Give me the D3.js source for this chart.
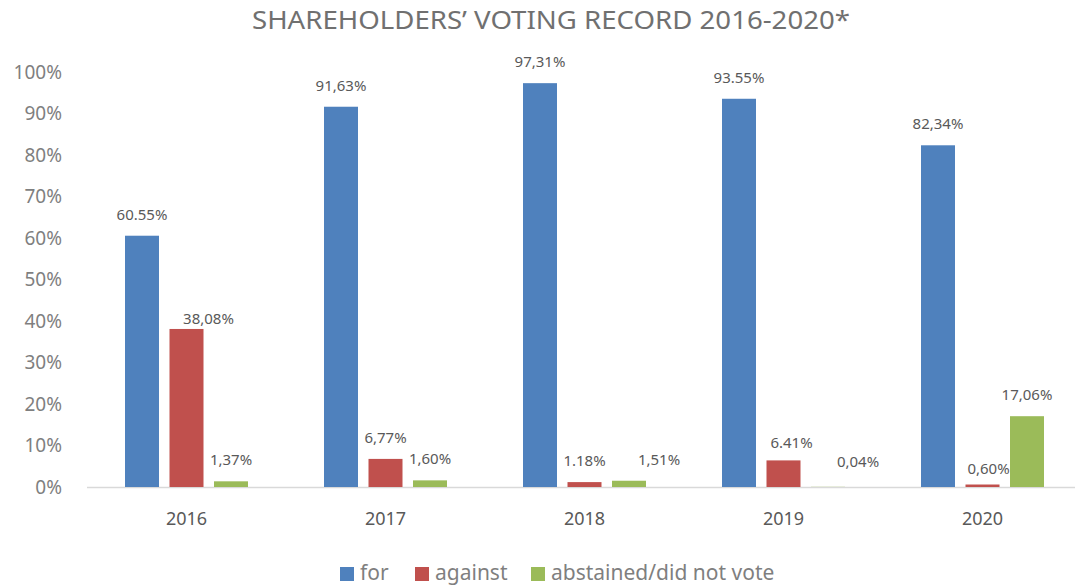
<!DOCTYPE html>
<meta charset="utf-8">
<style>
body { margin: 0; background: #fff; }
svg { font-family: "Noto Sans", sans-serif; }
.axis path, .axis line { display: none; }
</style>
<body>
<script src="https://d3js.org/d3.v7.min.js"></script>
<script>

// data
var years = ["2016", "2017", "2018", "2019", "2020"];
var series = ["for", "against", "abstained/did not vote"];
var forVals = [60.55, 91.63, 97.31, 93.55, 82.34];
var againstVals = [38.08, 6.77, 1.18, 6.41, 0.60];
var abstainedVals = [1.37, 1.60, 1.51, 0.04, 17.06];
var forLabels = ["60.55%", "91,63%", "97,31%", "93.55%", "82,34%"];
var againstLabels = ["38,08%", "6,77%", "1.18%", "6.41%", "0,60%"];
var abstainedLabels = ["1,37%", "1,60%", "1,51%", "0,04%", "17,06%"];
var yTicks = [0, 10, 20, 30, 40, 50, 60, 70, 80, 90, 100];

var colors = ["#4f81bd", "#c0504d", "#9bbb59"];
// labels that were dragged by hand in the original
var labelNudge = { "1-0": [22, 11], "2-2": [30, 0], "2-3": [30, -4], "1-3": [8, 4], "1-4": [6, 5] };

var W = 1075, H = 588;
var margin = {top: 72, left: 87, bottom: 101};
var step = 199;

var x0 = d3.scaleBand().domain(years)
    .range([margin.left, margin.left + step * years.length]);
var x1 = d3.scaleBand().domain(d3.range(series.length))
    .range([-61.5, 61.5]).paddingInner(0.236);
var y = d3.scaleLinear().domain([0, 100]).range([487, 72]);

var svg = d3.select("body").append("svg")
    .attr("width", W).attr("height", H);

svg.append("text")
    .attr("x", 551).attr("y", 29)
    .attr("text-anchor", "middle")
    .attr("font-size", 26)
    .attr("fill", "#707070")
    .attr("textLength", 598).attr("lengthAdjust", "spacingAndGlyphs")
    .text("SHAREHOLDERS\u2019 VOTING RECORD 2016-2020*");

// y axis
svg.append("g").attr("class", "axis")
    .attr("transform", "translate(" + (margin.left - 22) + ",0)")
    .call(d3.axisLeft(y).tickValues(yTicks).tickSize(0).tickFormat(function(d) { return d + "%"; }))
    .selectAll("text")
    .attr("font-size", 19).attr("fill", "#7f7f7f")
    .attr("font-family", "Noto Sans, sans-serif");

// baseline
svg.append("line")
    .attr("x1", margin.left).attr("x2", W)
    .attr("y1", y(0) + 0.5).attr("y2", y(0) + 0.5)
    .attr("stroke", "#d9d9d9").attr("stroke-width", 1.5);

// x axis
svg.append("g").attr("class", "axis")
    .attr("transform", "translate(0," + (y(0) + 22) + ")")
    .call(d3.axisBottom(x0).tickSize(0))
    .selectAll("text")
    .attr("font-size", 18).attr("fill", "#595959")
    .attr("font-family", "Noto Sans, sans-serif");

var rows = years.map(function(yr, i) {
  return {
    year: yr,
    vals: [forVals[i], againstVals[i], abstainedVals[i]],
    labels: [forLabels[i], againstLabels[i], abstainedLabels[i]]
  };
});

var groups = svg.selectAll(".grp").data(rows).enter().append("g")
    .attr("class", "grp")
    .attr("transform", function(d) { return "translate(" + (x0(d.year) + x0.bandwidth() / 2) + ",0)"; });

groups.selectAll("rect")
    .data(function(d, i) { return d.vals.map(function(v, s) { return {v: v, s: s, i: i}; }); })
    .enter().append("rect")
    .attr("x", function(d) { return x1(d.s); })
    .attr("width", x1.bandwidth())
    .attr("y", function(d) { return y(d.v); })
    .attr("height", function(d) { return y(0) - y(d.v); })
    .attr("fill", function(d) { return colors[d.s]; });

groups.selectAll(".lbl")
    .data(function(d, i) { return d.labels.map(function(t, s) { return {t: t, v: d.vals[s], s: s, i: i}; }); })
    .enter().append("text")
    .attr("class", "lbl")
    .attr("x", function(d) {
      var n = labelNudge[d.s + "-" + d.i];
      return x1(d.s) + x1.bandwidth() / 2 + (n ? n[0] : 0);
    })
    .attr("y", function(d) {
      var n = labelNudge[d.s + "-" + d.i];
      return y(d.v) - 16 + (n ? n[1] : 0);
    })
    .attr("text-anchor", "middle")
    .attr("font-size", 15)
    .attr("fill", "#595959")
    .text(function(d) { return d.t; });

// legend
var legX = [340, 415, 531];
var leg = svg.selectAll(".leg").data(series).enter().append("g")
    .attr("class", "leg")
    .attr("transform", function(d, i) { return "translate(" + legX[i] + ",567)"; });
leg.append("rect").attr("width", 14).attr("height", 14)
    .attr("fill", function(d, i) { return colors[i]; });
leg.append("text").attr("x", 20).attr("y", 13)
    .attr("font-size", 21).attr("fill", "#7f7f7f")
    .text(function(d) { return d; });

</script>
</body>
